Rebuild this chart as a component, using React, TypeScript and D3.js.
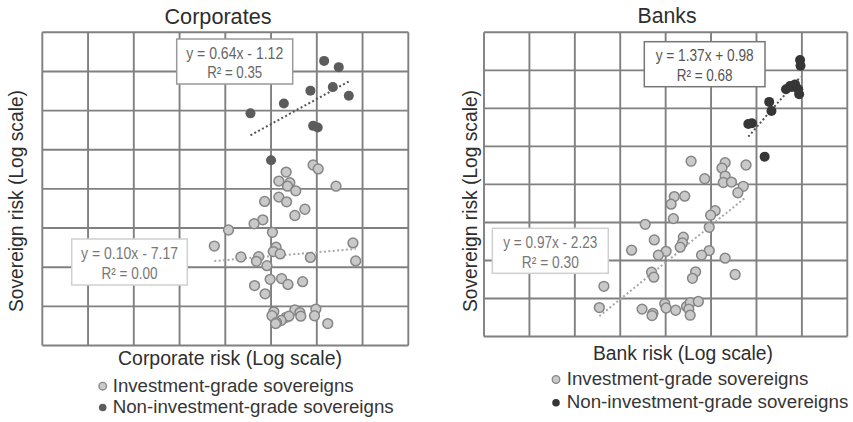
import React from "react";
import * as d3 from "d3";

// Grid-unit coordinates (8 x 8 log-scale cells, origin bottom-left)
type Pt = [number, number];

const CORP_IG: Pt[] = [
  [5.92, 4.61], [6.03, 4.51], [5.33, 4.43], [5.17, 4.2], [5.41, 4.16], [5.36, 4.07],
  [5.54, 3.95], [6.42, 4.07], [5.17, 3.79], [5.34, 3.67], [4.86, 3.68], [5.74, 3.48],
  [5.52, 3.32], [4.82, 3.21], [4.63, 3.11], [4.07, 2.95], [5.03, 2.89], [3.76, 2.54],
  [5.11, 2.51], [5.05, 2.4], [5.2, 2.34], [4.34, 2.26], [4.73, 2.27], [4.68, 2.15],
  [4.91, 2.04], [5.86, 2.25], [6.79, 2.62], [6.85, 2.16], [4.98, 1.69], [5.23, 1.71],
  [5.37, 1.56], [5.69, 1.63], [4.64, 1.53], [4.87, 1.32], [5.06, 0.86], [5.02, 0.76],
  [5.52, 0.91], [5.63, 0.84], [5.65, 0.75], [5.98, 0.93], [5.95, 0.76], [5.33, 0.72],
  [5.39, 0.75], [5.22, 0.64], [5.12, 0.59], [5.1, 0.56], [6.24, 0.56],
];

const CORP_NIG: Pt[] = [
  [6.16, 7.27], [6.48, 7.11], [5.86, 6.51], [6.35, 6.6], [6.7, 6.38],
  [5.28, 6.18], [4.55, 5.93], [5.92, 5.61], [6.02, 5.57], [5.0, 4.73],
];

const BANK_IG: Pt[] = [
  [4.56, 4.61], [5.31, 4.57], [5.24, 4.43], [5.77, 4.51], [4.86, 4.15], [5.31, 4.22],
  [5.27, 4.05], [5.45, 4.06], [5.71, 3.95], [5.59, 3.78], [4.19, 3.68], [4.42, 3.69],
  [4.12, 3.48], [5.09, 3.31], [4.99, 3.19], [4.17, 3.1], [3.55, 2.95], [4.96, 2.87],
  [3.75, 2.54], [4.39, 2.61], [4.37, 2.46], [4.32, 2.35], [3.25, 2.27], [4.01, 2.24],
  [3.84, 2.14], [4.96, 2.26], [4.79, 2.14], [5.31, 2.06], [3.69, 1.69], [3.74, 1.56],
  [4.66, 1.7], [4.59, 1.53], [5.53, 1.63], [2.64, 1.32], [2.54, 0.76], [3.48, 0.72],
  [3.72, 0.61], [3.7, 0.55], [3.98, 0.86], [4.01, 0.75], [4.22, 0.69], [4.46, 0.79],
  [4.54, 0.89], [4.72, 0.92], [4.51, 0.72], [4.54, 0.56],
];

const BANK_NIG: Pt[] = [
  [6.96, 7.27], [6.97, 7.12], [6.74, 6.59], [6.85, 6.63], [6.65, 6.5], [6.92, 6.5],
  [6.94, 6.37], [6.78, 6.56], [6.28, 6.17], [6.33, 5.93], [5.82, 5.59], [5.9, 5.61],
  [6.18, 4.73],
];

// Regression slopes and their printed equations
const CORP_NIG_SLOPE = 0.64;
const CORP_IG_SLOPE = 0.1;
const BANK_NIG_SLOPE = 1.37;
const BANK_IG_SLOPE = 0.97;

const CORP_NIG_EQ = ["y = 0.64x  - 1.12", "R² = 0.35"];
const CORP_IG_EQ = ["y = 0.10x  - 7.17", "R² = 0.00"];
const BANK_NIG_EQ = ["y = 1.37x + 0.98", "R² = 0.68"];
const BANK_IG_EQ = ["y = 0.97x - 2.23", "R² = 0.30"];

const LEGEND_LABELS = ["Investment-grade sovereigns", "Non-investment-grade sovereigns"];
const Y_TITLE = "Sovereign risk (Log scale)";

const FONT = "'Liberation Sans Narrow', 'Liberation Sans', Arial, sans-serif";
const CELLS = 8;

const GRID = "#808080";
const IG_FILL = "#c9c9c9";
const IG_STROKE = "#868686";

interface EqBox {
  x: number; y: number; w: number; h: number;
  lines: string[];
  widths: number[];
  baselines: number[];
  stroke: string;
  color: string;
}

interface PanelProps {
  title: string;
  titleX: number; titleY: number; titleW: number;
  xTitle: string; xTitleX: number; xTitleY: number; xTitleW: number;
  yTitleX: number; yTitleY: number;
  frame: { x0: number; x1: number; y0: number; y1: number };
  ig: Pt[]; nig: Pt[];
  igSlope: number; nigSlope: number;
  nigColor: string;
  boxes: EqBox[];
  legendX: number; legendY: number[]; legendMarkerX: number; legendWidths: number[];
}

// Least-squares line with the given slope passes through the group's centroid
function trend(points: Pt[], slope: number): Pt[] {
  const mx = d3.mean(points, (p) => p[0])!;
  const my = d3.mean(points, (p) => p[1])!;
  const [lo, hi] = d3.extent(points, (p) => p[0]) as [number, number];
  return [lo, hi].map((x) => [x, my + slope * (x - mx)] as Pt);
}

function Panel(p: PanelProps) {
  const x = d3.scaleLinear().domain([0, CELLS]).range([p.frame.x0, p.frame.x1]);
  const y = d3.scaleLinear().domain([0, CELLS]).range([p.frame.y1, p.frame.y0]);
  const line = d3.line<Pt>().x((d) => x(d[0])).y((d) => y(d[1]));
  const lines = d3.range(0, CELLS + 1);
  return (
    <g>
      <text x={p.titleX} y={p.titleY} textAnchor="middle" fontSize={22} fill="#2e2e2e"
        fontFamily={FONT} textLength={p.titleW} lengthAdjust="spacingAndGlyphs">{p.title}</text>
      {lines.map((v) => (
        <line key={"v" + v} x1={x(v)} x2={x(v)} y1={p.frame.y0} y2={p.frame.y1}
          stroke={GRID} strokeWidth={1.9} />
      ))}
      {lines.map((v) => (
        <line key={"h" + v} x1={p.frame.x0} x2={p.frame.x1} y1={y(v)} y2={y(v)}
          stroke={GRID} strokeWidth={1.9} />
      ))}
      {p.boxes.map((b, i) => (
        <g key={"b" + i}>
          <rect x={b.x} y={b.y} width={b.w} height={b.h} fill="#fff" stroke={b.stroke} strokeWidth={1.5} />
          {b.lines.map((t, j) => (
            <text key={j} x={b.x + b.w / 2} y={b.baselines[j]} textAnchor="middle" fontSize={16}
              fill={b.color} fontFamily={FONT} textLength={b.widths[j]} lengthAdjust="spacingAndGlyphs">{t}</text>
          ))}
        </g>
      ))}
      <path d={line(trend(p.ig, p.igSlope))!} stroke="#a8a8a8" strokeWidth={2} strokeDasharray="2 2.4" fill="none" />
      {p.ig.map((d, i) => (
        <circle key={"i" + i} cx={x(d[0])} cy={y(d[1])} r={4.9} fill={IG_FILL} stroke={IG_STROKE} strokeWidth={1.5} />
      ))}
      <path d={line(trend(p.nig, p.nigSlope))!} stroke="#555" strokeWidth={2} strokeDasharray="2 2.4" fill="none" />
      {p.nig.map((d, i) => (
        <circle key={"n" + i} cx={x(d[0])} cy={y(d[1])} r={5} fill={p.nigColor} />
      ))}
      <text x={p.xTitleX} y={p.xTitleY} textAnchor="middle" fontSize={20} fill="#2e2e2e"
        fontFamily={FONT} textLength={p.xTitleW} lengthAdjust="spacingAndGlyphs">{p.xTitle}</text>
      <text transform={`translate(${p.yTitleX},${p.yTitleY}) rotate(-90)`} textAnchor="middle" fontSize={21}
        fill="#2e2e2e" fontFamily={FONT} textLength={222} lengthAdjust="spacingAndGlyphs">{Y_TITLE}</text>
      {LEGEND_LABELS.map((t, i) => (
        <g key={"l" + i}>
          <circle cx={p.legendMarkerX} cy={p.legendY[i] - 5.5} r={3.8}
            fill={i === 0 ? IG_FILL : p.nigColor} stroke={i === 0 ? IG_STROKE : "none"} strokeWidth={1.3} />
          <text x={p.legendX} y={p.legendY[i]} fontSize={18} fill="#363636" fontFamily={FONT}
            textLength={p.legendWidths[i]} lengthAdjust="spacingAndGlyphs">{t}</text>
        </g>
      ))}
    </g>
  );
}

export default function App() {
  return (
    <svg width={853} height={422} style={{ position: "absolute", left: 0, top: 0, background: "#fff" }}>
      <rect width={853} height={422} fill="#fff" />
      <Panel
        title="Corporates" titleX={218} titleY={24} titleW={107}
        xTitle="Corporate risk (Log scale)" xTitleX={230} xTitleY={365} xTitleW={224}
        yTitleX={22.5} yTitleY={201}
        frame={{ x0: 42.3, x1: 408.3, y0: 32.3, y1: 345.5 }}
        ig={CORP_IG} nig={CORP_NIG} igSlope={CORP_IG_SLOPE} nigSlope={CORP_NIG_SLOPE}
        nigColor="#5c5c5c"
        boxes={[
          { x: 176.7, y: 39, w: 116, h: 45, lines: CORP_NIG_EQ, widths: [97, 55], baselines: [58.5, 78], stroke: "#999", color: "#666" },
          { x: 71.7, y: 239, w: 115.6, h: 46, lines: CORP_IG_EQ, widths: [97, 56], baselines: [259, 279], stroke: "#d0d0d0", color: "#777" },
        ]}
        legendX={112.7} legendY={[391.7, 413]} legendMarkerX={102.7} legendWidths={[241, 281]}
      />
      <Panel
        title="Banks" titleX={667} titleY={22.5} titleW={59}
        xTitle="Bank risk (Log scale)" xTitleX={683} xTitleY={360} xTitleW={180}
        yTitleX={477} yTitleY={201}
        frame={{ x0: 484, x1: 847.3, y0: 32.3, y1: 336.5 }}
        ig={BANK_IG} nig={BANK_NIG} igSlope={BANK_IG_SLOPE} nigSlope={BANK_NIG_SLOPE}
        nigColor="#363636"
        boxes={[
          { x: 644.3, y: 41.7, w: 120.7, h: 45, lines: BANK_NIG_EQ, widths: [98, 56], baselines: [61, 81], stroke: "#777", color: "#555" },
          { x: 492.3, y: 228.3, w: 116, h: 45, lines: BANK_IG_EQ, widths: [94, 57], baselines: [248.3, 268.3], stroke: "#d0d0d0", color: "#777" },
        ]}
        legendX={566.7} legendY={[385, 408.3]} legendMarkerX={556} legendWidths={[241.6, 281.6]}
      />
    </svg>
  );
}
